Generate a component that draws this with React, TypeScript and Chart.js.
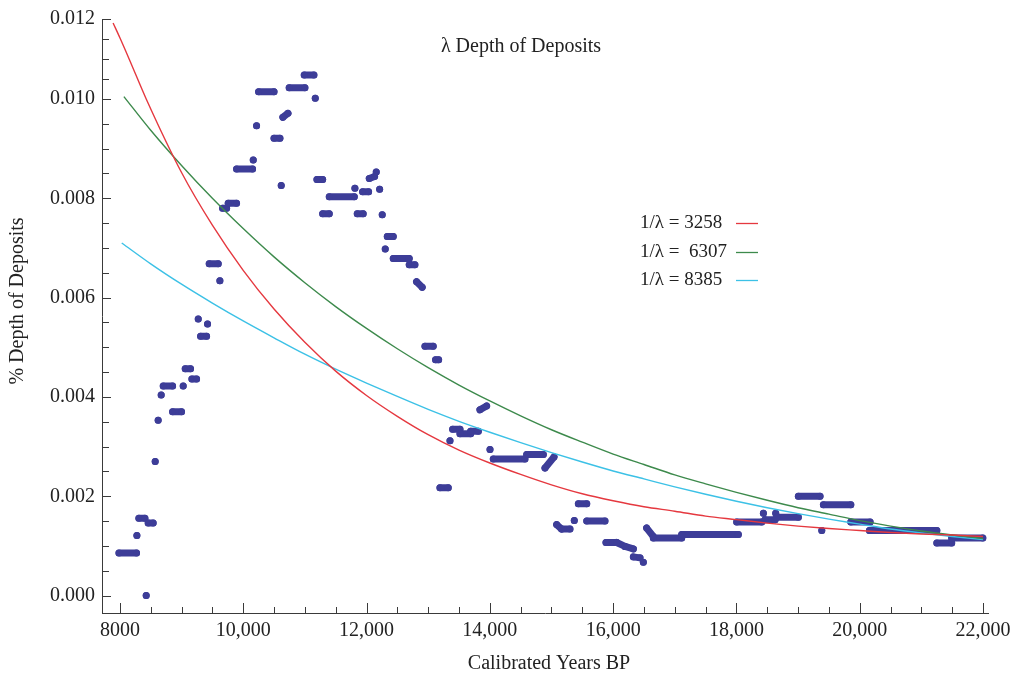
import React, { useEffect, useRef } from 'react';
import { Chart, registerables, LinearScale } from 'chart.js';

// The reference's y axis is drawn with its top band (0.010 - 0.012) compressed
// relative to the rest; this scale reproduces that with a piecewise-linear mapping.
class BrokenLinearScale extends (LinearScale as any) {
  static id = 'brokenLinear';
  getPixelForValue(value: any) {
    if (value === null || value === undefined || isNaN(value)) return NaN;
    const min = this.min;
    const max = this.max;
    const b = this.options.breakValue;
    const r = this.options.upperDensity;
    const lower = b - min;
    const upper = (max - b) * r;
    const f = lower / (lower + upper);
    const d = value <= b ? ((value - min) / lower) * f : f + ((value - b) / (max - b)) * (1 - f);
    return this.getPixelForDecimal(d);
  }
  getValueForPixel(pixel: number) {
    const d = this.getDecimalForPixel(pixel);
    const min = this.min;
    const max = this.max;
    const b = this.options.breakValue;
    const r = this.options.upperDensity;
    const lower = b - min;
    const upper = (max - b) * r;
    const f = lower / (lower + upper);
    return d <= f ? min + (d / f) * lower : b + ((d - f) / (1 - f)) * (max - b);
  }
}

Chart.register(...registerables, BrokenLinearScale as any);

// ---- axis ticks ----
const xTickValues = [8000, 10000, 12000, 14000, 16000, 18000, 20000, 22000];
const xTickLabels = ['8000', '10,000', '12,000', '14,000', '16,000', '18,000', '20,000', '22,000'];
const yTickValues = [0, 0.002, 0.004, 0.006, 0.008, 0.01, 0.012];
const yTickLabels = ['0.000', '0.002', '0.004', '0.006', '0.008', '0.010', '0.012'];

// ---- observed deposits: runs of equal (or gently sloping) values ----
const runStart = [7985, 8276, 8308, 8427, 8459, 8573, 8621, 8670, 8703, 8855, 9027, 9060, 9168, 9271, 9309, 9422, 9449, 9622, 9666, 9757, 9893, 10163, 10217, 10250, 10500, 10617, 10644, 10746, 10990, 11169, 11196, 11289, 11396, 11812, 11850, 11937, 12045, 12158, 12213, 12255, 12304, 12337, 12434, 12693, 12812, 12948, 13120, 13191, 13354, 13397, 13516, 13689, 13840, 14003, 14056, 14598, 14895, 15084, 15165, 15370, 15436, 15572, 15884, 16057, 16193, 16328, 16490, 16544, 16652, 17112, 18004, 18437, 18464, 18637, 18653, 19004, 19384, 19410, 19855, 20157, 21250, 21491];
const runEnd = [8270, 8276, 8406, 8427, 8540, 8573, 8621, 8670, 8855, 9000, 9027, 9146, 9244, 9271, 9406, 9422, 9595, 9622, 9731, 9892, 10152, 10163, 10217, 10500, 10596, 10617, 10726, 11001, 11147, 11169, 11289, 11396, 11802, 11812, 11946, 12034, 12131, 12158, 12213, 12255, 12304, 12434, 12693, 12785, 12903, 13082, 13170, 13326, 13354, 13516, 13689, 13814, 13948, 14003, 14570, 14868, 15041, 15165, 15300, 15370, 15572, 15868, 16057, 16193, 16328, 16436, 16490, 16652, 17112, 18031, 18410, 18437, 18627, 18637, 19004, 19356, 19384, 19855, 20168, 21250, 21491, 21996];
const runStartValue = [0.00086, 0.00121, 0.00156, 0.0, 0.00146, 0.0027, 0.00353, 0.00404, 0.00422, 0.0037, 0.00422, 0.00457, 0.00436, 0.00557, 0.00522, 0.00547, 0.00668, 0.00634, 0.0078, 0.0079, 0.00859, 0.00877, 0.00946, 0.01018, 0.00921, 0.00826, 0.00963, 0.01028, 0.0106, 0.01002, 0.00838, 0.00769, 0.00803, 0.0082, 0.00769, 0.00813, 0.0084, 0.00853, 0.00818, 0.00767, 0.00698, 0.00723, 0.00679, 0.00666, 0.00632, 0.00502, 0.00475, 0.00217, 0.00312, 0.00335, 0.00326, 0.00331, 0.00374, 0.00294, 0.00275, 0.00284, 0.00257, 0.00143, 0.00134, 0.00151, 0.00185, 0.0015, 0.00107, 0.00107, 0.00099, 0.00078, 0.00067, 0.00136, 0.00116, 0.00123, 0.00148, 0.00166, 0.00153, 0.00166, 0.00158, 0.002, 0.00131, 0.00183, 0.00148, 0.00131, 0.00106, 0.00116];
const runEndValue = [0.00086, 0.00121, 0.00156, 0.0, 0.00146, 0.0027, 0.00353, 0.00404, 0.00422, 0.0037, 0.00422, 0.00457, 0.00436, 0.00557, 0.00522, 0.00547, 0.00668, 0.00634, 0.0078, 0.0079, 0.00859, 0.00877, 0.00946, 0.01018, 0.00921, 0.00826, 0.00971, 0.01028, 0.0106, 0.01002, 0.00838, 0.00769, 0.00803, 0.0082, 0.00769, 0.00813, 0.00844, 0.00853, 0.00818, 0.00767, 0.00698, 0.00723, 0.00679, 0.00666, 0.00621, 0.00502, 0.00475, 0.00217, 0.00312, 0.00335, 0.00326, 0.00331, 0.00382, 0.00294, 0.00275, 0.00284, 0.00279, 0.00134, 0.00134, 0.00151, 0.00185, 0.0015, 0.00107, 0.00099, 0.00094, 0.00076, 0.00067, 0.00119, 0.00116, 0.00123, 0.00148, 0.00166, 0.00153, 0.00166, 0.00158, 0.002, 0.00131, 0.00183, 0.00148, 0.00131, 0.00106, 0.00116];

// ---- fitted exponential curves ----
const redYears = [7890, 8000, 8150, 8427, 9000, 9500, 10000, 10500, 11000, 11500, 12000, 12500, 13000, 13500, 14000, 14500, 15000, 15500, 16000, 16500, 17000, 17500, 18000, 18500, 19000, 19500, 20000, 20500, 21000, 21500, 22000];
const redValues = [0.0119, 0.01153, 0.011, 0.01, 0.00852, 0.00746, 0.00655, 0.00577, 0.0051, 0.00452, 0.00403, 0.00361, 0.00324, 0.00293, 0.00267, 0.00244, 0.00223, 0.00205, 0.00191, 0.00179, 0.0017, 0.0016, 0.00153, 0.00146, 0.0014, 0.00135, 0.00131, 0.00127, 0.00124, 0.00122, 0.00119];
const greenYears = [8065, 8500, 9000, 9500, 10000, 10500, 11000, 11500, 12000, 12500, 13000, 13500, 14000, 14500, 15000, 15500, 16000, 16500, 17000, 17500, 18000, 18500, 19000, 19500, 20000, 20500, 21000, 21500, 22000];
const greenValues = [0.01006, 0.00937, 0.00866, 0.008, 0.00739, 0.00682, 0.0063, 0.00582, 0.00538, 0.00497, 0.00459, 0.00424, 0.00392, 0.00362, 0.00334, 0.00309, 0.00285, 0.00264, 0.00243, 0.00225, 0.00208, 0.00192, 0.00177, 0.00164, 0.00151, 0.0014, 0.0013, 0.00122, 0.00115];
const cyanYears = [8030, 8500, 9000, 9500, 10000, 10500, 11000, 11500, 12000, 12500, 13000, 13500, 14000, 14500, 15000, 15500, 16000, 16500, 17000, 17500, 18000, 18500, 19000, 19500, 20000, 20500, 21000, 21500, 22000];
const cyanValues = [0.0071, 0.00668, 0.00627, 0.00589, 0.00553, 0.00519, 0.00486, 0.00456, 0.00428, 0.00401, 0.00375, 0.00351, 0.00329, 0.00308, 0.00288, 0.00269, 0.00251, 0.00235, 0.00219, 0.00204, 0.0019, 0.00177, 0.00165, 0.00154, 0.00144, 0.00134, 0.00126, 0.00119, 0.00113];

const legendLabels = ['1/\u03bb = 3258', '1/\u03bb =  6307', '1/\u03bb = 8385'];
const chartTitle = '\u03bb Depth of Deposits';
const xTitle = 'Calibrated Years BP';
const yTitle = '% Depth of Deposits';

const RED = '#e5383f';
const GREEN = '#3d8a4c';
const CYAN = '#3cc1e6';
const DOTS = '#3d3d98';
const AXIS = '#3a3a3a';
const TEXT = '#222222';
const SERIF = "'Liberation Serif', 'Times New Roman', serif";

const overlayPlugin = {
  id: 'overlay',
  afterDraw(chart: any) {
    const { ctx, chartArea } = chart;
    const xs = chart.scales.x;
    const ys = chart.scales.y;
    ctx.save();
    ctx.strokeStyle = AXIS;
    ctx.lineWidth = 1;
    // inward tick marks on x axis
    for (let v = 8000; v <= 22000; v += 500) {
      const px = Math.round(xs.getPixelForValue(v)) + 0.5;
      const len = v % 2000 === 0 ? 10 : 6;
      ctx.beginPath();
      ctx.moveTo(px, chartArea.bottom);
      ctx.lineTo(px, chartArea.bottom - len);
      ctx.stroke();
    }
    // inward tick marks on y axis
    for (let i = 0; i <= 24; i++) {
      const v = i * 0.0005;
      const py = Math.round(ys.getPixelForValue(v)) + 0.5;
      const len = i % 4 === 0 ? 9 : 7;
      ctx.beginPath();
      ctx.moveTo(chartArea.left, py);
      ctx.lineTo(chartArea.left + len, py);
      ctx.stroke();
    }
    ctx.fillStyle = TEXT;
    ctx.textBaseline = 'middle';
    // plot title inside the plot
    ctx.font = `20px ${SERIF}`;
    ctx.textAlign = 'center';
    ctx.fillText(chartTitle, 521, 47);
    // axis titles
    ctx.fillText(xTitle, 549, 664);
    ctx.save();
    ctx.translate(18, 301);
    ctx.rotate(-Math.PI / 2);
    ctx.fillText(yTitle, 0, 0);
    ctx.restore();
    // legend
    const colors = [RED, GREEN, CYAN];
    const rows = [223, 252, 280];
    ctx.font = `19px ${SERIF}`;
    ctx.textAlign = 'left';
    legendLabels.forEach((lab, i) => {
      ctx.fillStyle = TEXT;
      ctx.fillText(lab, 640, rows[i]);
      ctx.strokeStyle = colors[i];
      ctx.lineWidth = 1.3;
      ctx.beginPath();
      ctx.moveTo(736, rows[i] + 0.5);
      ctx.lineTo(758, rows[i] + 0.5);
      ctx.stroke();
    });
    ctx.restore();
  },
};

function buildRuns() {
  const pts: any[] = [];
  for (let i = 0; i < runStart.length; i++) {
    pts.push({ x: runStart[i], y: runStartValue[i] });
    if (runEnd[i] !== runStart[i]) pts.push({ x: runEnd[i], y: runEndValue[i] });
    pts.push({ x: runEnd[i], y: null });
  }
  return pts;
}

function curve(xs: number[], ys: number[]) {
  return xs.map((x, i) => ({ x, y: ys[i] }));
}

export default function App() {
  const ref = useRef<HTMLCanvasElement | null>(null);

  useEffect(() => {
    document.body.style.margin = '0';
    if (!ref.current) return;
    const lineBase = {
      type: 'line' as const,
      pointRadius: 0,
      borderWidth: 1.4,
      fill: false,
      cubicInterpolationMode: 'monotone' as const,
    };
    const chart = new Chart(ref.current, {
      type: 'line',
      data: {
        datasets: [
          { ...lineBase, label: legendLabels[0], data: curve(redYears, redValues), borderColor: RED },
          { ...lineBase, label: legendLabels[1], data: curve(greenYears, greenValues), borderColor: GREEN },
          { ...lineBase, label: legendLabels[2], data: curve(cyanYears, cyanValues), borderColor: CYAN },
          {
            type: 'line',
            label: 'data',
            data: buildRuns(),
            borderColor: DOTS,
            backgroundColor: DOTS,
            borderWidth: 7,
            borderCapStyle: 'round',
            borderJoinStyle: 'round',
            pointRadius: 3.5,
            pointBorderWidth: 0,
            pointBackgroundColor: DOTS,
            spanGaps: false,
            tension: 0,
          } as any,
        ],
      },
      options: {
        responsive: false,
        animation: false,
        layout: { padding: { top: 19, right: 23, left: 0, bottom: 0 } },
        plugins: {
          legend: { display: false },
          tooltip: { enabled: false },
          title: { display: false },
        },
        scales: {
          x: {
            type: 'linear',
            min: 7710,
            max: 22080,
            grid: { display: false, drawTicks: false, tickLength: 0 },
            border: { display: true, color: AXIS, width: 1 },
            afterBuildTicks: (s: any) => {
              s.ticks = xTickValues.map((v) => ({ value: v }));
            },
            afterFit: (s: any) => {
              s.height = 66;
              s.paddingLeft = 0;
              s.paddingRight = 0;
            },
            ticks: {
              autoSkip: false,
              maxRotation: 0,
              padding: 6,
              color: TEXT,
              font: { family: SERIF, size: 20 },
              callback: (_v: any, i: number) => xTickLabels[i],
            },
            title: { display: false },
          },
          y: {
            type: 'brokenLinear',
            min: -0.00035,
            max: 0.012,
            breakValue: 0.01,
            upperDensity: 0.805,
            grid: { display: false, drawTicks: false, tickLength: 0 },
            border: { display: true, color: AXIS, width: 1 },
            afterBuildTicks: (s: any) => {
              s.ticks = yTickValues.map((v) => ({ value: v }));
            },
            afterFit: (s: any) => {
              s.width = 102;
              s.paddingTop = 0;
              s.paddingBottom = 0;
            },
            ticks: {
              autoSkip: false,
              padding: 7,
              color: TEXT,
              font: { family: SERIF, size: 20 },
              callback: (_v: any, i: number) => yTickLabels[i],
            },
            title: { display: false },
          },
        },
      },
      plugins: [overlayPlugin],
    } as any);
    return () => chart.destroy();
  }, []);

  return (
    <div style={{ width: 1011, height: 679, background: '#ffffff' }}>
      <canvas ref={ref} width={1011} height={679} style={{ display: 'block' }} />
    </div>
  );
}
